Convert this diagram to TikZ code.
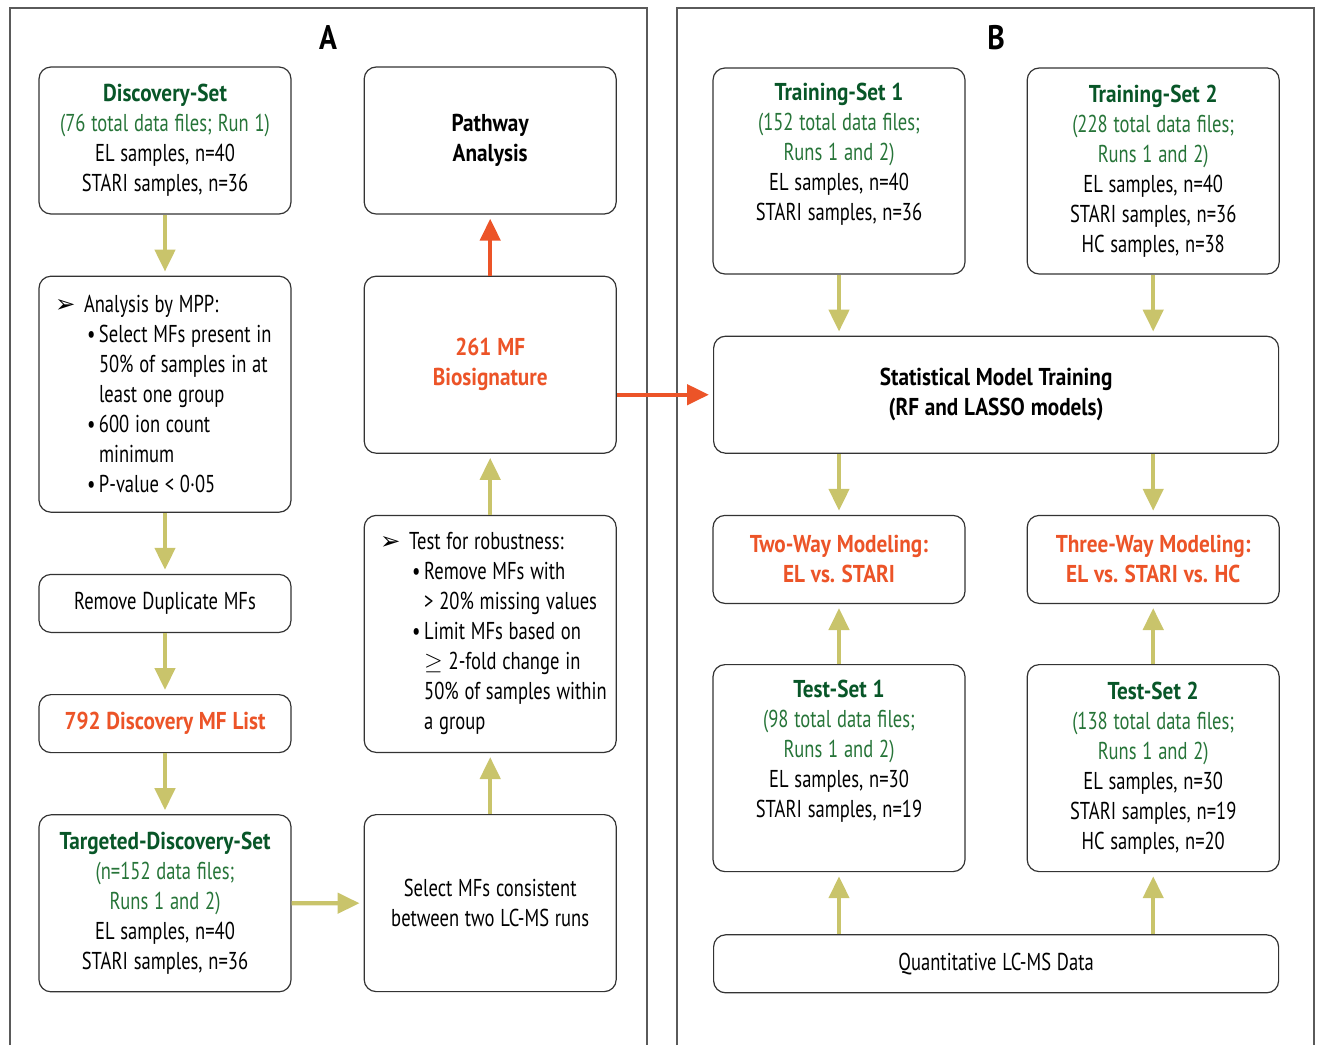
\documentclass[tikz,border=0pt]{standalone}
\usepackage{fontspec}
\setmainfont[FakeStretch=0.76, BoldFeatures={FakeStretch=0.87}]{PT Sans}
\newfontfamily\dingfont{DejaVu Sans}
\usepackage{tikz}
\usetikzlibrary{
  positioning,
  arrows.meta,
  calc
}
\definecolor{setgreen}{RGB}{8,86,40}
\definecolor{runsgreen}{RGB}{38,116,56}
\definecolor{hiorange}{RGB}{236,84,40}
\definecolor{feedolive}{RGB}{201,196,107}
\definecolor{framegray}{RGB}{90,90,90}
\newcommand{\setname}[1]{\textcolor{setgreen}{\textbf{#1}}}
\newcommand{\runs}[1]{\textcolor{runsgreen}{#1}}
\newcommand{\hi}[1]{\textcolor{hiorange}{\textbf{#1}}}
\newcommand{\headitem}[1]{\mbox{\makebox[14.5pt][l]{\dingfont ➢}#1}}
\newcommand{\bulitem}[1]{\mbox{\hspace*{16pt}\makebox[6pt][l]{\textbullet}#1}}
\newcommand{\contline}[1]{\mbox{\hspace*{22pt}#1}}
\newcommand{\tightspace}{\spaceskip=2.9pt\xspaceskip=3.2pt\relax}

\begin{document}
\begin{tikzpicture}[x=0.5pt,y=-0.5pt]
			\tikzset{
			stage/.style={
					rectangle, draw=black!80, line width=0.6pt,
					rounded corners=6pt, minimum width=126pt,
					inner xsep=8pt, inner ysep=0pt, text width=110pt,
					align=center, font=\fontsize{12.2}{15}\selectfont,
					execute at begin node=\tightspace,
				},
			wide/.style={minimum width=282.5pt, text width=266.5pt},
			listbox/.style={align=left},
			panel/.style={font=\fontsize{17}{18}\selectfont\bfseries},
			feed/.style={
			draw=feedolive, line width=2.2pt,
			-{Triangle[length=11pt,width=10pt]}, shorten >=2pt, },
			key/.style={feed, draw=hiorange},
			frame/.style={draw=framegray, line width=1pt},
			}
			\useasboundingbox (0,0) rectangle (1320,1045);

			% panel frames
			\draw[frame] (10,1045) |- (647,8) -- (647,1045);
			\draw[frame] (677,1045) |- (1314,8) -- (1314,1045);
			\node[panel] (labA) at (328,38) {A};
			\node[panel] (labB) at (996,38) {B};

			% panel A
			\node[stage, minimum height=73.5pt] (disc) at (165,140.5) {
				\setname{Discovery-Set}\\
				\runs{(76 total data files; Run 1)}\\
				EL samples, n=40\\
				STARI samples, n=36
			};
			\node[stage, listbox, minimum height=118pt, below=30.5pt of disc] (mpp) {
				\headitem{Analysis by MPP:}\\
				\bulitem{Select MFs present in}\\
				\contline{50\% of samples in at}\\
				\contline{least one group}\\
				\bulitem{600 ion count}\\
				\contline{minimum}\\
				\bulitem{P-value < 0·05}
			};
			\node[stage, minimum height=29pt, below=30.5pt of mpp] (dedup) {Remove Duplicate MFs};
			\node[stage, minimum height=29pt, below=30.5pt of dedup] (mflist) {\hi{792 Discovery MF List}};
			\node[stage, minimum height=88.5pt, below=30.5pt of mflist] (tds) {
				\setname{Targeted-Discovery-Set}\\
				\runs{(n=152 data files;}\\
				\runs{Runs 1 and 2)}\\
				EL samples, n=40\\
				STARI samples, n=36
			};
			\node[stage, minimum height=73.5pt, right=36pt of disc] (pathway) {\textbf{Pathway}\\ \textbf{Analysis}};
			\node[stage, minimum height=88.5pt, below=30.5pt of pathway] (biosig) {\hi{261 MF}\\ \hi{Biosignature}};
			\node[stage, listbox, minimum height=118.5pt, below=30.5pt of biosig] (robust) {
				\headitem{Test for robustness:}\\
				\bulitem{Remove MFs with}\\
				\contline{> 20\% missing values}\\
				\bulitem{Limit MFs based on}\\
				\contline{$\geq$ 2-fold change in}\\
				\contline{50\% of samples within}\\
				\contline{a group}
			};
			\node[stage, minimum height=88.5pt, below=30.5pt of robust] (consist) {
				Select MFs consistent\\
				between two LC-MS runs
			};

			\draw[feed] (disc) -- (mpp);
			\draw[feed] (mpp) -- (dedup);
			\draw[feed] (dedup) -- (mflist);
			\draw[feed] (mflist) -- (tds);
			\draw[feed] (tds) -- (consist);
			\draw[feed] (consist) -- (robust);
			\draw[feed] (robust) -- (biosig);
			\draw[key] (biosig) -- (pathway);

			% panel B
			\node[stage, minimum height=103pt] (train1) at (839,171) {
				\setname{Training-Set 1}\\
				\runs{(152 total data files;}\\
				\runs{Runs 1 and 2)}\\
				EL samples, n=40\\
				STARI samples, n=36\\ \strut
			};
			\node[stage, minimum height=103pt, right=30.5pt of train1] (train2) {
				\setname{Training-Set 2}\\
				\runs{(228 total data files;}\\
				\runs{Runs 1 and 2)}\\
				EL samples, n=40\\
				STARI samples, n=36\\
				HC samples, n=38
			};
			\coordinate (trainmid) at ($(train1.south)!0.5!(train2.south)$);
			\node[stage, wide, minimum height=58.5pt, below=30.5pt of trainmid] (smt) {
				\textbf{Statistical Model Training}\\
				\textbf{(RF and LASSO models)}
			};
			\node[stage, minimum height=44pt, anchor=north, yshift=-30.5pt] (twoway) at (train1 |- smt.south) {
				\hi{Two-Way Modeling:}\\
				\hi{EL vs. STARI}
			};
			\node[stage, minimum height=44pt, right=30.5pt of twoway] (threeway) {
				\hi{Three-Way Modeling:}\\
				\hi{EL vs. STARI vs. HC}
			};
			\node[stage, minimum height=103.5pt, below=30pt of twoway] (test1) {
				\setname{Test-Set 1}\\
				\runs{(98 total data files;}\\
				\runs{Runs 1 and 2)}\\
				EL samples, n=30\\
				STARI samples, n=19\\ \strut
			};
			\node[stage, minimum height=103.5pt, right=30.5pt of test1] (test2) {
				\setname{Test-Set 2}\\
				\runs{(138 total data files;}\\
				\runs{Runs 1 and 2)}\\
				EL samples, n=30\\
				STARI samples, n=19\\
				HC samples, n=20
			};
			\coordinate (testmid) at ($(test1.south)!0.5!(test2.south)$);
			\node[stage, wide, minimum height=29pt, below=31pt of testmid] (lcms) {Quantitative LC-MS Data};

			\draw[key] (smt.west -| biosig.east) -- (smt.west);
			\draw[feed] (train1) -- (train1 |- smt.north);
			\draw[feed] (train2) -- (train2 |- smt.north);
			\draw[feed] (smt.south -| twoway) -- (twoway);
			\draw[feed] (smt.south -| threeway) -- (threeway);
			\draw[feed] (test1) -- (twoway);
			\draw[feed] (test2) -- (threeway);
			\draw[feed] (lcms.north -| test1) -- (test1);
			\draw[feed] (lcms.north -| test2) -- (test2);
		\end{tikzpicture}
\end{document}
